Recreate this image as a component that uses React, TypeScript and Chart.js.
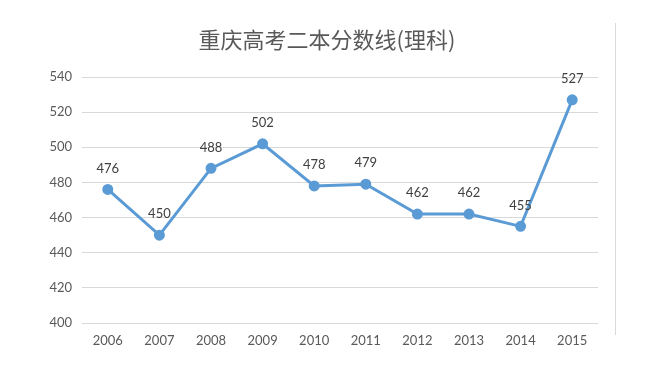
import React, { useEffect, useRef } from "react";
import { Chart, registerables } from "chart.js";

Chart.register(...registerables);

const categories = ["2006", "2007", "2008", "2009", "2010", "2011", "2012", "2013", "2014", "2015"];
const scores = [476, 450, 488, 502, 478, 479, 462, 462, 455, 527];
const titleText = "重庆高考二本分数线(理科)";

const labelPlugin = {
  id: "pointLabels",
  afterDatasetsDraw(chart: any) {
    const ctx = chart.ctx;
    const meta = chart.getDatasetMeta(0);
    ctx.save();
    ctx.font = "13px Lato, 'Open Sans', sans-serif";
    ctx.fillStyle = "#404040";
    ctx.textAlign = "center";
    ctx.textBaseline = "middle";
    meta.data.forEach((pt: any, i: number) => {
      ctx.fillText(String(scores[i]), pt.x, pt.y - 21);
    });
    ctx.restore();
  },
};

const titlePlugin = {
  id: "customTitle",
  afterDraw(chart: any) {
    const ctx = chart.ctx;
    ctx.save();
    ctx.font = "22px 'Noto Sans CJK SC', sans-serif";
    ctx.fillStyle = "#595959";
    ctx.textAlign = "center";
    ctx.textBaseline = "middle";
    ctx.fillText(titleText, chart.width / 2 + 2, 40);
    ctx.restore();
  },
};

export default function App() {
  const ref = useRef<HTMLCanvasElement>(null);
  useEffect(() => {
    document.body.style.margin = "0";
    const chart = new Chart(ref.current!, {
      type: "line",
      data: {
        labels: categories,
        datasets: [
          {
            data: scores,
            borderColor: "#5B9BD5",
            backgroundColor: "#5B9BD5",
            borderWidth: 3,
            pointRadius: 4,
            pointBackgroundColor: "#5B9BD5",
            pointBorderColor: "#5B9BD5",
            tension: 0,
          },
        ],
      },
      options: {
        responsive: false,
        animation: false,
        layout: { padding: { left: 0, right: 52, top: 77, bottom: 0 } },
        plugins: {
          legend: { display: false },
          tooltip: { enabled: false },
          title: { display: false },
        },
        scales: {
          x: {
            offset: true,
            grid: { display: false, drawTicks: false },
            border: { display: false },
            ticks: {
              color: "#595959",
              font: { size: 13, family: "Lato, 'Open Sans', sans-serif" },
              padding: 10,
              maxRotation: 0,
            },
            afterFit(scale: any) {
              scale.height = 68;
            },
          },
          y: {
            min: 400,
            max: 540,
            ticks: {
              stepSize: 20,
              color: "#595959",
              font: { size: 13, family: "Lato, 'Open Sans', sans-serif" },
              padding: 10,
            },
            grid: { color: "#d9d9d9", drawTicks: false, lineWidth: 1 },
            border: { display: false },
            afterFit(scale: any) {
              scale.width = 82;
            },
          },
        },
      },
      plugins: [labelPlugin, titlePlugin],
    });
    return () => chart.destroy();
  }, []);
  return (
    <div style={{ position: "relative", width: 650, height: 391, background: "#fff" }}>
      <canvas ref={ref} width={650} height={391} />
      <div
        style={{
          position: "absolute",
          left: 615,
          top: 23,
          width: 1,
          height: 312,
          background: "#d9d9d9",
        }}
      />
    </div>
  );
}
